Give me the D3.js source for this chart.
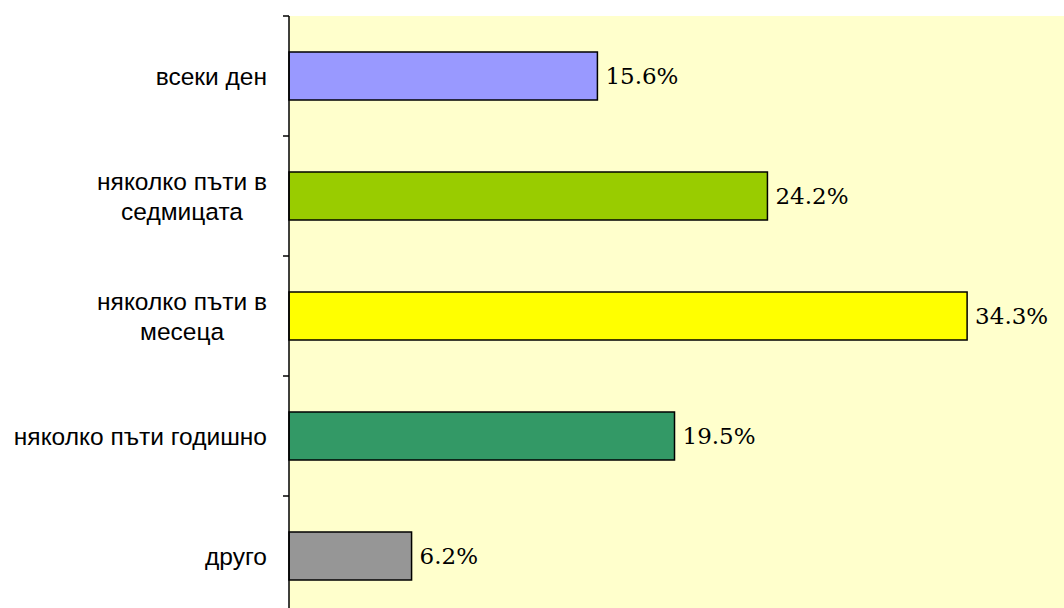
<!DOCTYPE html>
<html>
<head>
<meta charset="utf-8">
<script src="https://cdn.jsdelivr.net/npm/d3@7"></script>
<style>
  body { margin: 0; background: #fff; }
  svg { display: block; }
</style>
</head>
<body>
<div id="chart"></div>
<script>
var svgWidth = 1064;
var svgHeight = 608;

// data
var categories = ["всеки ден", "няколко пъти в седмицата", "няколко пъти в месеца", "няколко пъти годишно", "друго"];
var labelLines = [["всеки ден"], ["няколко пъти в", "седмицата"], ["няколко пъти в", "месеца"], ["няколко пъти годишно"], ["друго"]];
var values = [15.6, 24.2, 34.3, 19.5, 6.2];
var colors = ["#9999FF", "#99CC00", "#FFFF00", "#339966", "#969696"];

var plotLeft = 289, plotTop = 16;

var svg = d3.select("#chart")
  .append("svg")
  .attr("width", svgWidth)
  .attr("height", svgHeight);

var xScale = d3.scaleLinear()
  .domain([0, 40])
  .range([plotLeft, plotLeft + 40 * 19.77]);

var yScale = d3.scaleBand()
  .domain(categories)
  .range([plotTop, plotTop + 600])
  .paddingInner(0.6)
  .paddingOuter(0.3);

// plot background
svg.append("rect")
  .attr("x", plotLeft)
  .attr("y", plotTop)
  .attr("width", svgWidth - plotLeft)
  .attr("height", svgHeight - plotTop)
  .style("fill", "#FFFFCC");

// bars
svg.selectAll("rect.bar")
  .data(values)
  .enter()
  .append("rect")
  .attr("class", "bar")
  .attr("x", xScale(0))
  .attr("y", (d, i) => yScale(categories[i]))
  .attr("width", d => xScale(d) - xScale(0))
  .attr("height", yScale.bandwidth())
  .style("fill", (d, i) => colors[i])
  .style("stroke", "#000")
  .style("stroke-width", 1.5);

// value labels
svg.selectAll("text.val")
  .data(values)
  .enter()
  .append("text")
  .attr("class", "val")
  .attr("x", d => xScale(d) + 8)
  .attr("y", (d, i) => yScale(categories[i]) + yScale.bandwidth() / 2)
  .attr("dy", "0.36em")
  .style("font-family", "'DejaVu Serif', serif")
  .style("font-size", "23px")
  .style("fill", "#000")
  .text(d => d.toFixed(1) + "%");

// axis line + ticks at band boundaries
var step = yScale.step();
var bounds = d3.range(categories.length + 1).map(i => plotTop + i * step);

svg.append("line")
  .attr("x1", plotLeft).attr("x2", plotLeft)
  .attr("y1", plotTop).attr("y2", svgHeight)
  .style("stroke", "#000")
  .style("stroke-width", 1.5);

svg.selectAll("line.tick")
  .data(bounds)
  .enter()
  .append("line")
  .attr("class", "tick")
  .attr("x1", plotLeft - 6).attr("x2", plotLeft)
  .attr("y1", d => d).attr("y2", d => d)
  .style("stroke", "#000")
  .style("stroke-width", 1.5);

// category labels, lines centred on each other, block right-aligned
var labelRight = 267;
var lineH = 30;
categories.forEach(function(c, i) {
  var lines = labelLines[i];
  var cy = yScale(c) + yScale.bandwidth() / 2;
  var g = svg.append("g");
  var texts = lines.map(function(t, j) {
    return g.append("text")
      .attr("y", cy + (j - (lines.length - 1) / 2) * lineH)
      .attr("dy", "0.35em")
      .attr("text-anchor", "middle")
      .style("font-family", "'Liberation Sans', Arial, sans-serif")
      .style("font-size", "24.5px")
      .style("fill", "#000")
      .text(t);
  });
  var maxW = d3.max(texts, t => t.node().getComputedTextLength());
  texts.forEach(t => t.attr("x", labelRight - maxW / 2));
});
</script>
</body>
</html>
